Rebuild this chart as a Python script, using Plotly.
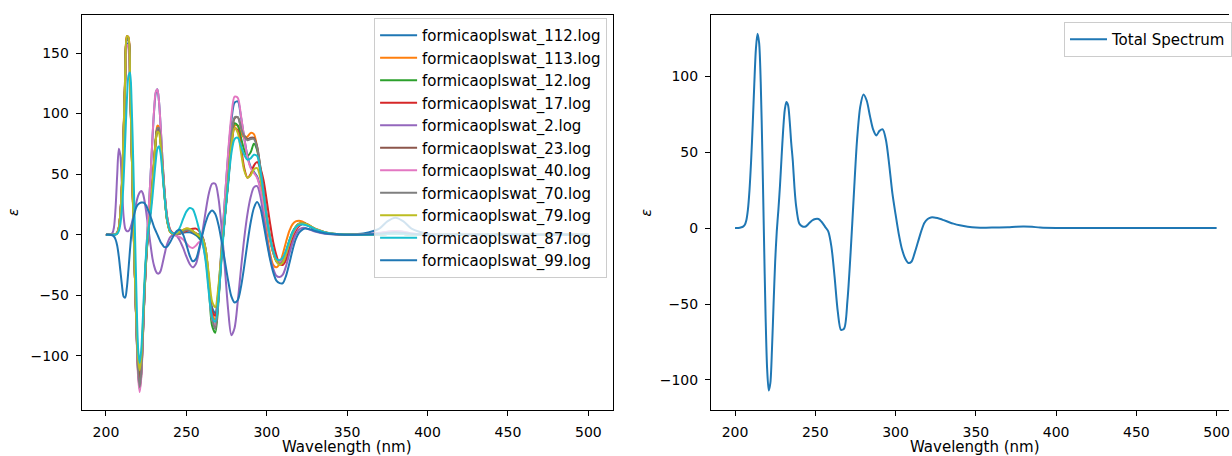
import plotly.graph_objects as go

# ---------------- data ----------------
wavelength = [200, 202, 204,
              205, 206, 207, 208, 209, 210, 211, 212, 213, 214, 215, 216, 217, 218, 219, 220, 221,
              222, 223, 224, 225, 226, 227, 228, 229, 230, 231, 232, 233, 234, 235, 236, 237, 238,
              240, 242, 244, 246, 248, 250, 252, 254, 256, 258, 260, 262, 264, 266, 268, 270, 272,
              274, 276, 278, 280, 282, 284, 286, 288, 290, 292, 294, 296, 298, 300, 302, 304, 306,
              308, 310, 312, 314, 316, 318, 320, 322, 324, 326, 328, 330,
              333, 336, 340, 345, 350, 360, 370, 375, 380, 385, 390, 400, 420, 450, 500]

labels = ["formicaoplswat_112.log", "formicaoplswat_113.log", "formicaoplswat_12.log",
          "formicaoplswat_17.log", "formicaoplswat_2.log", "formicaoplswat_23.log",
          "formicaoplswat_40.log", "formicaoplswat_70.log", "formicaoplswat_79.log",
          "formicaoplswat_87.log", "formicaoplswat_99.log"]

eps_112 = [0, 0, 0,
           0, 0.4, 1.8, 6, 18, 42, 81, 126, 157, 158, 126, 74, 19, -32, -78, -113, -125,
           -114, -83, -48, -17, 8, 30, 55, 81, 103, 117, 120, 110, 90, 66, 44, 27, 15,
           3, 0.5, 0.5, 1, 1.5, 2, 2, 1, -0.5, -3, -7, -18, -40, -60, -65, -45, -8,
           30, 66, 94, 109, 110, 97, 80, 65, 56, 52, 48, 39, 26, 11, -3, -14, -21,
           -24, -23, -17, -9, -1, 4, 7, 8.5, 8.5, 7.5, 6, 4.5,
           3, 1.8, 0.8, 0.4, 0.3, 1, 5, 11, 14, 11, 5, 0.8, 0, 0, 0]

eps_113 = [0, 0, 0,
           0, 0.3, 1.5, 5.5, 18, 43, 84, 131, 163, 162, 126, 71, 15, -34, -77, -108, -119,
           -107, -78, -45, -19, -1, 12, 26, 44, 63, 80, 90, 89, 78, 59, 40, 24, 12,
           2, 0.5, 1, 2.5, 4, 5, 4.8, 3, 1, -1, -4, -15, -40, -66, -70, -48, -13,
           16, 44, 74, 90, 90, 84, 80, 81, 84, 83, 72, 50, 25, 2, -15, -25, -27,
           -24, -16, -6, 3, 8.5, 11, 11.5, 11, 9.5, 8, 6, 4.5,
           3, 1.8, 0.8, 0.3, 0, 0, 0.2, 0.5, 0.8, 0.5, 0.2, 0, 0, 0, 0]

eps_12 = [0, 0, 0,
          0, 0.3, 1.4, 5, 17, 42, 83, 130, 162, 161, 125, 71, 16, -33, -76, -108, -121,
          -110, -80, -47, -20, -2, 11, 25, 42, 61, 78, 87, 87, 77, 59, 40, 24, 12,
          2.5, 0.5, 0.5, 1.5, 3, 4, 4, 2.5, 0.5, -2, -5, -17, -44, -75, -81, -55, -16,
          16, 45, 76, 92, 90, 80, 70, 65, 68, 75, 70, 55, 35, 14, -3, -15, -22,
          -24, -21, -14, -5, 2, 6.5, 9, 9.5, 9, 7.5, 6, 4.5,
          3, 1.8, 0.8, 0.3, 0, 0, 0.2, 0.6, 0.9, 0.6, 0.2, 0, 0, 0, 0]

eps_17 = [0, 0, 0,
          0, 0.3, 1.5, 5.5, 18, 43, 85, 133, 164, 163, 127, 73, 17, -33, -77, -110, -123,
          -112, -82, -48, -21, -2, 11, 25, 42, 61, 78, 87, 87, 78, 61, 43, 27, 15,
          4, 1, 0.5, 1, 2, 3, 4, 4.8, 5, 3, -2, -14, -40, -63, -67, -47, -14,
          15, 43, 72, 88, 86, 72, 55, 47, 50, 57, 60, 55, 45, 28, 10, -6, -17,
          -24, -25, -21, -13, -4, 3, 7, 9, 9, 8, 6.5, 5,
          3.5, 2, 1, 0.4, 0, 0, 0.2, 0.6, 0.9, 0.6, 0.2, 0, 0, 0, 0]

eps_2 = [0, 0, 1.2,
         6, 22, 49, 71, 65, 38, 15, 5, 3, 3, 5, 9, 15, 21, 27, 32, 35,
         36, 34, 28, 19, 9, -1, -11, -20, -26, -30, -32, -32, -30, -25, -19, -13, -8,
         -2, 0, -1, -5, -11, -18, -24, -27, -24, -13, 2, 19, 34, 42, 42, 30, 5,
         -28, -62, -83, -77, -55, -28, -3, 17, 31, 39, 40, 32, 15, -3, -18, -28, -34,
         -35, -33, -26, -16, -7, 0, 4, 5.5, 5.5, 4.5, 3.5, 2.5,
         1.5, 0.8, 0.3, 0.1, 0, 0.3, 1.5, 2.5, 3, 2.5, 1, 0.2, 0, 0, 0]

eps_23 = [0, 0, 0,
          0, 0.3, 1.4, 5, 17, 41, 82, 129, 161, 161, 126, 72, 17, -33, -79, -114, -128,
          -116, -84, -49, -22, -3, 10, 24, 41, 60, 77, 87, 87, 77, 60, 41, 25, 13,
          2.5, 0.5, 0.3, 1, 2.4, 3.8, 3.8, 2.4, 1, 0, -2, -12, -37, -68, -77, -52, -15,
          16, 45, 77, 96, 97, 89, 82, 79, 80, 80, 73, 56, 36, 15, -2, -14, -21,
          -24, -22, -15, -6, 1, 6, 9, 9.5, 9, 7.5, 6, 4.5,
          3, 1.8, 0.8, 0.3, 0, 0, 0.2, 0.6, 0.9, 0.6, 0.2, 0, 0, 0, 0]

eps_40 = [0, 0, 0,
          0, 0.5, 2, 6, 18, 42, 80, 124, 155, 157, 126, 75, 20, -32, -80, -117, -130,
          -118, -86, -50, -18, 8, 30, 55, 82, 104, 118, 120, 110, 90, 66, 44, 27, 15,
          3, 0, -1, -2, -4, -7, -10, -11, -9, -6, -8, -20, -45, -70, -75, -50, -10,
          30, 68, 98, 114, 113, 98, 80, 64, 55, 51, 47, 38, 25, 10, -4, -15, -21,
          -23, -21, -15, -7, 0, 5, 8, 9, 8.5, 7.5, 6, 4.5,
          3, 1.8, 0.8, 0.4, 0.2, 0.3, 1, 2.2, 3, 2.2, 1, 0.2, 0, 0, 0]

eps_70 = [0, 0, 0,
          0, 0.3, 1.4, 5, 17, 41, 82, 129, 161, 161, 126, 72, 17, -33, -78, -112, -126,
          -114, -83, -49, -22, -3, 10, 24, 41, 60, 78, 88, 88, 78, 60, 41, 25, 13,
          2.5, 0.5, 0.3, 1, 2.4, 3.8, 3.8, 2.4, 1, 0, -2, -12, -37, -69, -78, -52, -15,
          16, 45, 78, 97, 97, 88, 81, 78, 79, 79, 72, 56, 36, 15, -2, -14, -21,
          -24, -22, -15, -6, 1, 6, 9, 9.5, 9, 7.5, 6, 4.5,
          3, 1.8, 0.8, 0.3, 0, 0, 0.2, 0.6, 0.9, 0.6, 0.2, 0, 0, 0, 0]

eps_79 = [0, 0, 0,
          0, 0.3, 1.5, 5.5, 18, 43, 85, 133, 164, 163, 126, 71, 15, -33, -73, -102, -112,
          -101, -74, -43, -18, -1, 12, 26, 43, 62, 78, 85, 84, 74, 57, 39, 24, 12,
          2, 0.5, 1, 2.5, 4, 5, 4.8, 3, 1, -1, -3, -12, -33, -55, -60, -42, -12,
          16, 45, 74, 88, 84, 68, 53, 47, 49, 54, 55, 47, 32, 14, -2, -14, -22,
          -25, -23, -16, -7, 1, 6, 9, 9.5, 9, 8, 6.5, 5,
          3.5, 2, 1, 0.4, 0.1, 0, 0.2, 0.5, 0.8, 0.5, 0.2, 0, 0, 0, 0]

eps_87 = [0, 0, 0,
          0, 0.2, 0.8, 3, 9, 22, 45, 78, 110, 131, 134, 108, 60, 5, -50, -94, -106,
          -95, -68, -38, -15, 0, 9, 19, 32, 47, 61, 71, 73, 67, 53, 38, 24, 13,
          3, 1, 2, 6, 13, 19, 22, 21, 14, 4, -6, -22, -48, -68, -72, -52, -18,
          14, 42, 67, 79, 80, 73, 66, 62, 63, 66, 65, 53, 34, 14, -2, -13, -20,
          -21, -19, -13, -5, 2, 6, 8, 8.5, 8, 7, 6, 4.5,
          3.2, 2, 1, 0.4, 0.1, 0, 0.2, 0.5, 0.7, 0.5, 0.2, 0, 0, 0, 0]

eps_99 = [0, 0, -0.5,
          -1.5, -4, -9, -18, -30, -42, -51, -52, -44, -29, -12, 3, 13, 19, 23, 25, 26,
          26.5, 26.5, 26, 24, 21, 18, 14, 10, 6, 3, 0, -3, -6, -8, -10, -10.5, -10,
          -6, -1, 3, 4, 0, -8, -17, -22, -20, -11, 0, 10, 17, 20, 17, 8, -6,
          -22, -38, -51, -56, -54, -43, -26, -7, 10, 22, 27, 22, 9, -6, -20, -31, -38,
          -40, -40, -34, -24, -13, -4, 1.5, 4, 5, 4.7, 4, 3,
          2, 1.2, 0.5, 0.2, 0, 0.2, 0.8, 1.5, 2, 1.5, 0.8, 0.2, 0, 0, 0]

total_spectrum = [0, 0, 0.5,
                  1, 2, 5, 12, 25, 44, 68, 95, 118, 128, 122, 96, 50, -5, -57, -93, -107,
                  -102, -80, -50, -22, -2, 12, 28, 47, 65, 78, 83, 81, 71, 56, 44, 27, 15,
                  3, 1, 1, 3, 5, 6, 6, 4, 1, -2, -12, -32, -55, -67, -66, -48, -16,
                  22, 58, 80, 88, 84, 74, 65, 61, 64, 65, 58, 42, 23, 9, -4, -14, -20,
                  -23, -22, -16, -9, -2, 3.5, 6, 7, 7, 6.6, 6, 5.2,
                  4, 2.9, 1.8, 0.9, 0.4, 0.3, 0.6, 0.9, 1, 0.8, 0.4, 0.1, 0, 0, 0]

series = [eps_112, eps_113, eps_12, eps_17, eps_2, eps_23, eps_40, eps_70, eps_79, eps_87, eps_99]
for s in series + [total_spectrum]:
    assert len(s) == len(wavelength), (len(s), len(wavelength))

colors = ["#1f77b4", "#ff7f0e", "#2ca02c", "#d62728", "#9467bd", "#8c564b",
          "#e377c2", "#7f7f7f", "#bcbd22", "#17becf", "#1f77b4"]

x_ticks = [200, 250, 300, 350, 400, 450, 500]

# ---------------- figure ----------------
W, H = 1232, 456
FONT = "DejaVu Sans"
fig = go.Figure()

for i, (lab, s) in enumerate(zip(labels, series)):
    fig.add_trace(go.Scatter(x=wavelength, y=s, name=lab, mode="lines",
                             line=dict(color=colors[i], width=2, shape="spline", smoothing=0.8),
                             xaxis="x", yaxis="y", legend="legend"))

fig.add_trace(go.Scatter(x=wavelength, y=total_spectrum, name="Total Spectrum", mode="lines",
                         line=dict(color="#1f77b4", width=2, shape="spline", smoothing=0.8),
                         xaxis="x2", yaxis="y2", legend="legend2"))

def px_x(p):
    return p / W

def px_y(p):
    return 1 - p / H

axis_common = dict(showline=True, linecolor="black", linewidth=1.1, ticks="outside",
                   ticklen=5, tickwidth=1.1, tickcolor="black", showgrid=False,
                   zeroline=False, tickfont=dict(family=FONT, size=14, color="black"),
                   ticklabelstandoff=4, ticklabeloverflow="allow")

ydom = [px_y(410), px_y(15)]
fig.update_layout(
    width=W, height=H,
    margin=dict(l=0, r=0, t=0, b=0),
    paper_bgcolor="white", plot_bgcolor="white",
    font=dict(family=FONT, size=14, color="black"),
    xaxis=dict(domain=[px_x(82), px_x(614)], range=[185, 515], tickvals=x_ticks,
               mirror=True, anchor="y", **axis_common),
    yaxis=dict(domain=ydom, range=[-144.8, 181.4], tickvals=[-100, -50, 0, 50, 100, 150],
               mirror=True, anchor="x", **axis_common),
    xaxis2=dict(domain=[px_x(712.7), 1.0], range=[185, 507.7], tickvals=x_ticks,
                mirror=True, anchor="y2", **axis_common),
    yaxis2=dict(domain=ydom, range=[-119.8, 140.3], tickvals=[-100, -50, 0, 50, 100],
                mirror=False, anchor="x2", **axis_common),
    legend=dict(x=px_x(375), y=px_y(18), xanchor="left", yanchor="top",
                bgcolor="rgba(255,255,255,0.8)", bordercolor="#cccccc", borderwidth=1,
                font=dict(family=FONT, size=15, color="black"), itemwidth=37,
                traceorder="normal"),
    legend2=dict(x=px_x(1067), y=px_y(22), xanchor="left", yanchor="top",
                 bgcolor="rgba(255,255,255,0.8)", bordercolor="#cccccc", borderwidth=1,
                 font=dict(family=FONT, size=15, color="black"), itemwidth=37),
    showlegend=True,
)

ann = [
    dict(text="<i>ε</i>", x=px_x(13), y=px_y(212), textangle=-90, size=14),
    dict(text="<i>ε</i>", x=px_x(648), y=px_y(212), textangle=-90, size=14),
    dict(text="Wavelength (nm)", x=px_x(348), y=px_y(447), size=15),
    dict(text="Wavelength (nm)", x=px_x(977), y=px_y(447), size=15),
]
for a in ann:
    sz = a.pop("size")
    fig.add_annotation(xref="paper", yref="paper", showarrow=False, xanchor="center",
                       yanchor="middle", font=dict(family=FONT, size=sz, color="black"), **a)

fig.write_html("out.html")
